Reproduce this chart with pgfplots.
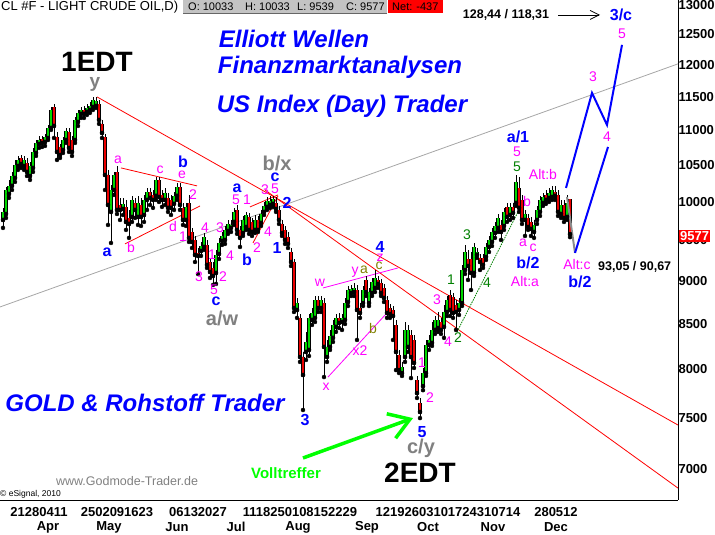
\documentclass[border=0pt]{standalone}
\usepackage{pgfplots}
\pgfplotsset{compat=1.18}
\usepackage{pgfplotstable}
\usepackage{fontspec}
\setmainfont{Liberation Sans}
\usetikzlibrary{arrows.meta}
\definecolor{cgreen}{RGB}{0,215,0}
\definecolor{cred}{RGB}{235,0,0}
\definecolor{mag}{RGB}{255,0,255}
\definecolor{ewblue}{RGB}{0,0,255}
\definecolor{ewgray}{RGB}{128,128,128}
\definecolor{olv}{RGB}{128,128,0}
\definecolor{dgreen}{RGB}{0,128,0}
\definecolor{lgreen}{RGB}{0,255,0}
\definecolor{boxgray}{RGB}{195,195,195}
\newcommand\fs[1]{\fontsize{#1bp}{#1bp}\selectfont}

\pgfplotstableread{
x H L T B
3 9918 9657 9865 9760
6 10199 9786 10158 9838
9 10295 10051 10213 10104
12 10405 10158 10349 10213
15 10573 10267 10502 10322
18 10629 10433 10573 10488
24 10629 10433 10573 10488
30 10545 10295 10488 10349
33 10743 10405 10686 10461
36 10858 10629 10815 10672
39 10916 10743 10858 10800
45 10946 10772 10902 10829
48 11078 10858 11033 10887
51 11347 11004 11302 11033
63 10902 10672 10858 10715
66 11033 10815 10990 10858
75 11197 10815 11152 10858
78 11302 11063 11257 11122
81 11347 11182 11302 11242
87 11392 11227 11332 11272
90 11423 11257 11362 11302
93 11500 11302 11453 11347
96 11500 11332 11438 11362
111 10226 9465 10158 9865
114 10405 10091 10363 10158
123 10051 9825 9971 9904
132 10078 9734 10024 9799
138 10078 9695 9984 9799
144 10091 9734 10024 9825
147 10185 9891 10131 10024
156 10336 10024 10295 10078
165 10185 9957 10118 10024
174 10131 9891 10078 9971
177 10254 10024 10199 10078
186 9984 9682 9931 9760
201 9478 9303 9427 9365
204 9592 9377 9542 9415
216 9377 8962 9315 9094
219 9529 9265 9465 9327
222 9605 9440 9554 9491
225 9682 9453 9631 9503
228 9760 9580 9708 9618
231 9760 9605 9695 9657
234 9918 9695 9865 9734
243 9812 9554 9760 9592
246 9865 9631 9825 9669
255 9825 9592 9760 9631
261 9891 9682 9838 9721
264 9997 9825 9944 9865
267 10064 9891 10011 9931
270 10078 9918 10011 9957
273 10078 9931 10038 9971
297 8796 8565 8737 8656
306 8407 8098 8295 8185
309 8610 8141 8565 8207
312 8679 8485 8622 8542
315 8819 8519 8772 8565
321 8819 8633 8772 8679
327 8317 8077 8240 8130
330 8429 8207 8362 8240
333 8542 8295 8485 8340
336 8610 8407 8565 8463
342 8610 8429 8565 8519
345 8796 8496 8737 8542
348 8938 8702 8890 8749
351 8950 8819 8902 8855
354 8974 8819 8914 8866
363 8938 8702 8890 8737
369 8914 8702 8866 8737
372 9034 8819 8986 8855
375 9130 8866 9034 8914
402 8077 7928 8023 7959
405 8519 8077 8429 8130
408 8485 8185 8429 8240
423 8012 7780 7959 7822
426 8317 7928 8262 7959
429 8373 8207 8317 8262
432 8519 8251 8429 8284
435 8587 8384 8542 8429
438 8633 8407 8542 8451
444 8714 8340 8633 8463
447 8819 8587 8772 8633
459 8796 8599 8737 8656
462 9192 8702 9130 8737
465 9440 9082 9352 9130
474 9465 9058 9415 9094
477 9402 9278 9352 9315
486 9465 9253 9415 9290
489 9554 9352 9503 9415
492 9657 9427 9605 9478
495 9734 9529 9682 9592
498 9838 9605 9786 9657
504 9918 9631 9865 9682
510 9984 9760 9931 9825
516 10363 9944 10267 9984
525 9891 9554 9838 9760
534 9760 9529 9695 9605
537 9944 9708 9891 9760
540 10078 9812 10024 9865
543 10118 9944 10064 9984
549 10185 9997 10118 10051
552 10213 10024 10158 10064
561 10024 9786 9957 9838
567 10091 9760 9984 9799
}\upc

\pgfplotstableread{
x H L T B
21 10643 10461 10601 10516
27 10601 10349 10531 10405
42 10916 10757 10873 10815
54 11392 10887 11347 11063
57 10975 10573 10902 10686
60 10800 10601 10757 10643
69 11033 10686 10975 10743
72 10916 10629 10858 10686
84 11362 11182 11302 11242
99 11453 11093 11392 11152
102 11152 10887 11093 10960
105 10946 10158 10902 10363
108 10433 9695 10363 9957
117 10488 9838 10405 9891
120 10051 9760 9957 9891
126 10024 9631 9931 9734
129 9891 9529 9786 9708
135 10051 9786 9984 9891
141 10051 9682 9957 9799
150 10185 9957 10131 10051
153 10158 9918 10091 10024
159 10336 9997 10295 10064
162 10158 9931 10091 10024
168 10118 9865 10051 9918
171 10091 9825 10024 9918
180 10254 9891 10199 9957
183 9984 9695 9918 9760
189 10091 9478 9984 9529
192 9657 9402 9605 9478
195 9554 9228 9503 9315
198 9402 9082 9340 9303
207 9503 9155 9440 9192
210 9265 9034 9228 9106
213 9228 8950 9155 9058
237 9957 9580 9891 9631
240 9682 9415 9631 9529
249 9852 9580 9799 9631
252 9786 9554 9734 9605
258 9812 9605 9760 9631
276 10064 9865 9984 9904
279 9944 9708 9891 9760
282 9760 9554 9708 9592
285 9682 9453 9631 9503
288 9605 9402 9542 9453
291 9402 9179 9352 9228
294 9265 8633 9228 8679
300 8610 8077 8565 8130
303 8185 7576 8130 7938
318 8819 8633 8772 8679
324 8796 7917 8737 8240
339 8622 8451 8565 8508
357 8950 8317 8890 8656
360 8737 8565 8679 8622
366 9058 8819 9010 8866
378 9058 8914 9010 8962
381 9022 8819 8974 8855
384 8962 8749 8914 8796
387 8819 8565 8772 8622
390 8725 8565 8679 8610
393 8702 8317 8656 8587
396 8542 7991 8485 8185
399 8207 7959 8152 7991
411 8429 7906 8373 8130
414 8373 8012 8317 8066
417 7928 7698 7885 7749
420 7698 7495 7647 7556
441 8565 8384 8519 8429
450 8890 8587 8831 8656
453 8855 8565 8807 8622
456 8772 8429 8714 8633
468 9377 9010 9265 9179
471 9352 8890 9265 9094
480 9327 9130 9278 9228
483 9327 9155 9278 9192
501 9760 9503 9695 9605
507 9984 9734 9931 9799
513 9984 9786 9931 9852
519 10336 9865 10185 9918
522 10091 9708 10024 9760
528 9838 9631 9786 9669
531 9799 9554 9734 9644
546 10158 9971 10091 10024
555 10213 10024 10131 10078
558 10158 9812 10091 9865
564 10024 9734 9957 9786
570 10033 9539 10033 9577
}\dnc

\tikzset{
  mg/.style={text=mag, font=\fs{14}, inner sep=0pt},
  bl/.style={text=ewblue, font={\fs{16}\bfseries}, inner sep=0pt},
  gy/.style={text=ewgray, font={\fs{20}\bfseries}, inner sep=0pt},
  ol/.style={text=olv, font=\fs{14}, inner sep=0pt},
  dg/.style={text=dgreen, font=\fs{14}, inner sep=0pt},
  ttl/.style={text=ewblue, font={\fs{24}\bfseries\itshape}, inner sep=0pt},
  dt/.style={font={\fs{13}\bfseries}, inner sep=0pt},
}
\pgfplotsset{
  wick/.style={forget plot, only marks, mark=none, error bars/.cd, y dir=plus, y explicit, error mark=none, error bar style={line width=0.9bp, black}},
  bodyk/.style={forget plot, only marks, mark=none, error bars/.cd, y dir=plus, y explicit, error mark=none, error bar style={line width=3.4bp, black}},
  bodyc/.style={forget plot, only marks, mark=none, error bars/.cd, y dir=plus, y explicit, error mark=none, error bar style={line width=2.0bp, #1}},
}

\begin{document}
\begin{tikzpicture}
\path[use as bounding box] (0,-35bp) rectangle (715bp,500bp);
\begin{axis}[
  scale only axis, width=678bp, height=500bp,
  at={(0,0)}, anchor=south west,
  xmin=0, xmax=678, ymode=log, ymin=6720, ymax=13087,
  axis x line*=bottom, axis y line*=right,
  axis line style={black, line width=0.8bp},
  xtick=\empty,
  ytick={7000,7500,8000,8500,9000,9500,10000,10500,11000,11500,12000,12500,13000},
  yticklabels={7000,7500,8000,8500,9000,9500,10000,10500,11000,11500,12000,12500,13000},
  yticklabel style={font={\fs{13}\bfseries}, anchor=west, xshift=-3bp},
  major tick length=0pt,
]
% trend lines
\addplot[red, line width=0.8bp] coordinates {(97,11500) (678,7426)};
\addplot[red, line width=0.8bp] coordinates {(265,10158) (678,6827)};
\addplot[black!35, line width=0.8bp] coordinates {(0,8691) (678,12017)};
\addplot[red, line width=0.8bp] coordinates {(121,10461) (197,10213)};
\addplot[red, line width=0.8bp] coordinates {(125,9453) (200,9944)};
\addplot[red, line width=0.8bp] coordinates {(250,9931) (278,10091)};
\addplot[red, line width=0.8bp] coordinates {(253,9465) (278,10078)};
\addplot[mag, line width=0.8bp] coordinates {(323,8914) (398,9155)};
\addplot[mag, line width=0.8bp] coordinates {(328,7917) (387,8622)};
\addplot[dgreen, line width=0.8bp, dash pattern=on 1.5bp off 1bp] coordinates {(457,8407) (518,9865)};
% candles
\addplot[wick] table[x=x, y=L, y error plus expr=\thisrow{H}-\thisrow{L}] {\upc};
\addplot[wick] table[x=x, y=L, y error plus expr=\thisrow{H}-\thisrow{L}] {\dnc};
\addplot[bodyk] table[x=x, y=B, y error plus expr=\thisrow{T}-\thisrow{B}] {\upc};
\addplot[bodyk] table[x=x, y=B, y error plus expr=\thisrow{T}-\thisrow{B}] {\dnc};
\addplot[bodyc=cgreen] table[x=x, y=B, y error plus expr=\thisrow{T}-\thisrow{B}] {\upc};
\addplot[bodyc=cred] table[x=x, y=B, y error plus expr=\thisrow{T}-\thisrow{B}] {\dnc};
% projections
\addplot[black!45, line width=2bp] coordinates {(567,10064) (575,9340)};
\addplot[ewblue, line width=2bp] coordinates {(566,10185) (592,11561) (607,11078) (622,12325)};
\addplot[ewblue, line width=2bp] coordinates {(575,9340) (608,10757)};
\addplot[lgreen, line width=3.5bp, -{Straight Barb[length=20bp, width=26bp]}] coordinates {(303,7106) (413,7495)};
\addplot[black, line width=0.8bp, -{Straight Barb[length=9bp, width=9bp]}] coordinates {(558,12828) (600,12828)};
\end{axis}

\begin{scope}[shift={(0,500bp)}, x=1bp, y=-1bp]
% header
\node[anchor=west, inner sep=0pt, font=\fs{13}] at (1,7) {CL \#F - LIGHT CRUDE OIL,D)};
\fill[boxgray] (183,0) rectangle (387,13);
\draw[black!60, line width=0.6bp] (183,13) -- (387,13);
\node[anchor=west, inner sep=0pt, font=\fs{11}] at (188,7) {O: 10033};
\node[anchor=west, inner sep=0pt, font=\fs{11}] at (245,7) {H: 10033};
\node[anchor=west, inner sep=0pt, font=\fs{11}] at (297,7) {L: 9539};
\node[anchor=west, inner sep=0pt, font=\fs{11}] at (346,7) {C: 9577};
\fill[red] (388,0) rectangle (443,13);
\node[anchor=west, inner sep=0pt, font=\fs{11}] at (392,7) {Net: -437};
% titles
\node[ttl] at (294,39) {Elliott Wellen};
\node[ttl] at (340,67) {Finanzmarktanalysen};
\node[ttl] at (342,106) {US Index (Day) Trader};
\node[ttl] at (145,403) {GOLD \& Rohstoff Trader};
\node[font={\fs{28}\bfseries}, inner sep=0pt] at (97,62) {1EDT};
\node[font={\fs{28}\bfseries}, inner sep=0pt] at (420,473) {2EDT};
\node[text=ewgray, font={\fs{19}\bfseries}, inner sep=0pt] at (95,84) {y};
\node[gy] at (421,448) {c/y};
\node[gy] at (277,163) {b/x};
\node[gy] at (222,318) {a/w};
\node[text=ewgray, font=\fs{12.5}, inner sep=0pt] at (127,481) {www.Godmode-Trader.de};
\node[anchor=west, font=\fs{8.5}, inner sep=0pt] at (0,494) {© eSignal, 2010};
\node[text=lgreen, font={\fs{15}\bfseries}, inner sep=0pt] at (286,473) {Volltreffer};
\node[font={\fs{12.5}\bfseries}, inner sep=0pt] at (506,15) {128,44 / 118,31};
\node[anchor=west, font={\fs{12.5}\bfseries}, inner sep=0pt] at (598,267) {93,05 / 90,67};
\node[fill=red, text=white, font={\fs{13}\bfseries}, inner sep=1bp, anchor=west] at (679,236) {9577};
% dates
\node[dt] at (39,512) {21280411};
\node[dt] at (117,512) {2502091623};
\node[dt] at (198,512) {06132027};
\node[dt] at (300,512) {1118250108152229};
\node[dt] at (448,512) {12192603101724310714};
\node[dt] at (556,512) {280512};
\node[dt] at (48,527) {Apr};
\node[dt] at (109,527) {May};
\node[dt] at (177,527) {Jun};
\node[dt] at (236,527) {Jul};
\node[dt] at (298,527) {Aug};
\node[dt] at (367,527) {Sep};
\node[dt] at (428,527) {Oct};
\node[dt] at (493,527) {Nov};
\node[dt] at (556,527) {Dec};
% magenta labels
\node[mg] at (118,160) {a};
\node[mg] at (131,248) {b};
\node[mg] at (160,170) {c};
\node[mg] at (182,175) {e};
\node[mg] at (193,195) {2};
\node[mg] at (173,227) {d};
\node[mg] at (183,237) {1};
\node[mg] at (205,228) {4};
\node[mg] at (220,228) {3};
\node[mg] at (212,255) {1};
\node[mg] at (230,256) {4};
\node[mg] at (199,277) {3};
\node[mg] at (223,277) {2};
\node[mg] at (214,290) {5};
\node[mg] at (236,200) {5};
\node[mg] at (247,200) {1};
\node[mg] at (265,190) {3};
\node[mg] at (275,189) {5};
\node[mg] at (268,232) {4};
\node[mg] at (257,248) {2};
\node[mg] at (320,283) {w};
\node[mg] at (355,272) {y};
\node[mg] at (380,258) {z};
\node[mg] at (360,351) {x2};
\node[mg] at (326,387) {x};
\node[mg] at (422,363) {1};
\node[mg] at (430,398) {2};
\node[mg] at (437,300) {3};
\node[mg] at (448,342) {4};
\node[mg] at (517,152) {5};
\node[mg] at (527,202) {b};
\node[mg] at (523,243) {a};
\node[mg] at (533,248) {c};
\node[mg] at (525,282) {Alt:a};
\node[mg] at (543,175) {Alt:b};
\node[mg] at (577,265) {Alt:c};
\node[mg] at (593,77) {3};
\node[mg] at (607,137) {4};
\node[mg] at (622,34) {5};
% blue labels
\node[bl] at (107,252) {a};
\node[bl] at (183,162) {b};
\node[bl] at (237,188) {a};
\node[bl] at (275,177) {c};
\node[bl] at (287,203) {2};
\node[bl] at (247,260) {b};
\node[bl] at (277,248) {1};
\node[bl] at (305,420) {3};
\node[bl] at (380,247) {4};
\node[bl] at (216,301) {c};
\node[bl] at (422,432) {5};
\node[bl] at (518,137) {a/1};
\node[bl] at (528,263) {b/2};
\node[bl] at (580,282) {b/2};
\node[bl] at (621,15) {3/c};
% olive / dark green labels
\node[ol] at (364,270) {a};
\node[ol] at (379,266) {c};
\node[ol] at (373,329) {b};
\node[dg] at (451,280) {1};
\node[dg] at (458,338) {2};
\node[dg] at (467,235) {3};
\node[dg] at (487,283) {4};
\node[dg] at (517,167) {5};
\end{scope}
\end{tikzpicture}
\end{document}
